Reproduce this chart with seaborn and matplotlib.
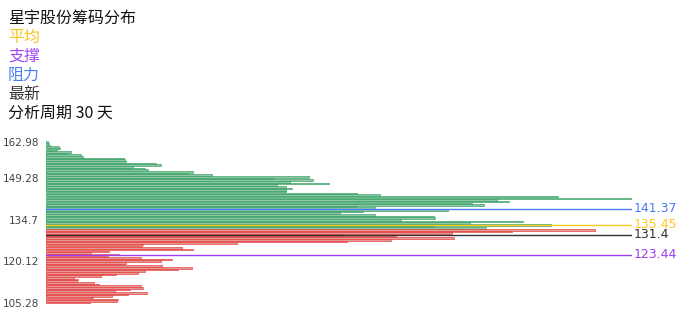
import matplotlib
matplotlib.use("Agg")
import matplotlib.pyplot as plt
import seaborn as sns
import pandas as pd
import numpy as np

# ---- data ----
title = "星宇股份筹码分布"
legend_items = ["平均", "支撑", "阻力", "最新"]
period_text = "分析周期 30 天"

# chip volume per price row, top (high price) to bottom (low price)
profit_volumes = [2, 3, 4, 13, 14, 11, 25, 21, 35, 37, 78, 79, 80, 110, 115, 87, 99, 102,
                  147, 142, 166, 263, 227, 267, 244, 283, 231, 240, 246, 240, 240, 312, 335,
                  513, 587, 452, 464, 427, 439, 311, 330, 403, 318, 295, 330, 389, 390, 356,
                  478, 425, 506, 389, 441]
loss_volumes = [550, 467, 407, 299, 351, 409, 346, 302, 191, 97, 96, 136, 147, 63, 45, 73,
                62, 95, 126, 115, 80, 78, 116, 146, 132, 99, 92, 70, 55, 28, 32, 31, 48, 53,
                95, 97, 84, 69, 101, 82, 66, 47, 72, 71, 44]

tick_labels = ["162.98", "149.28", "134.7", "120.12", "105.28"]
tick_rows = [0, 22, 47, 72, 97]

line_labels = ["141.37", "135.45", "131.4", "123.44"]
line_rows = [40.3, 49.8, 55.9, 68.0]
line_colors = ["#4a7cf5", "#ffc81e", "#333333", "#9c3ef2"]

# ---- build frame ----
vols = profit_volumes + loss_volumes
sides = ["profit"] * len(profit_volumes) + ["loss"] * len(loss_volumes)
df = pd.DataFrame({"row": np.arange(len(vols)), "vol": vols, "side": sides})

sns.set_theme(style="white")
plt.rcParams["font.family"] = ["Noto Sans CJK SC", "DejaVu Sans"]

W, H = 696, 320
fig = plt.figure(figsize=(W / 100, H / 100), dpi=100)
n = len(vols)
top_px, bot_px = 141.2, 303.5
ax = fig.add_axes([46 / W, 1 - bot_px / H, (632 - 46) / W, (bot_px - top_px) / H])

sns.barplot(data=df, x="vol", y="row", hue="side", orient="h", native_scale=True,
            dodge=False, width=0.95, palette={"profit": "#86cfa3", "loss": "#f28b8b"},
            legend=False, ax=ax, linewidth=0)
for p in ax.patches:
    fc = p.get_facecolor()
    if fc[0] > 0.8:
        p.set_edgecolor("#e53935")
    else:
        p.set_edgecolor("#2f9e5f")
    p.set_linewidth(0.45)

ax.set_xlim(0, max(vols))
ax.set_ylim(n - 0.5, -0.5)
ax.set_xlabel("")
ax.set_ylabel("")
ax.set_xticks([])
ax.set_yticks(tick_rows)
ax.set_yticklabels(tick_labels, family="DejaVu Sans")
ax.tick_params(axis="y", length=0, pad=5, labelsize=7.5, labelcolor="#444444")
for s in ax.spines.values():
    s.set_visible(False)

for lab, r, c in zip(line_labels, line_rows, line_colors):
    ax.axhline(r, color=c, lw=1.0)
    ax.text(1.002, r, lab, transform=ax.get_yaxis_transform(), color=c,
            fontsize=9, family="DejaVu Sans", va="center", ha="left")

# header texts
y0 = 18
fig.text(8 / W, 1 - y0 / H, title, fontsize=11.5, color="#111111", va="center")
text_colors = ["#f5c518", "#a347f5", "#4d7ef7", "#333333"]
for i, (t, c) in enumerate(zip(legend_items, text_colors)):
    fig.text(8 / W, 1 - (y0 + 19 * (i + 1)) / H, t, fontsize=11.5, color=c, va="center")
fig.text(8 / W, 1 - (y0 + 19 * 5) / H, period_text, fontsize=11.5, color="#111111", va="center")

fig.savefig("out.png", dpi=100)
